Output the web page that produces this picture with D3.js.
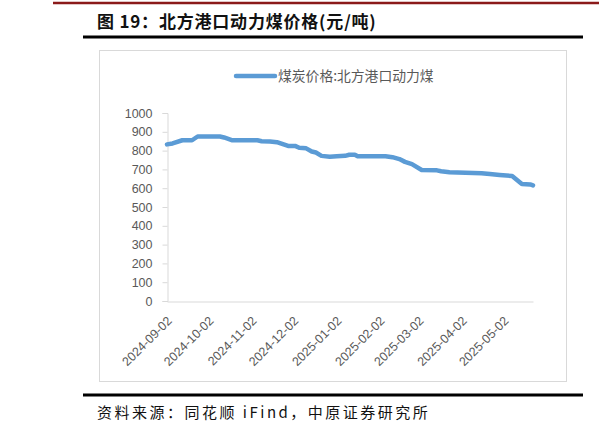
<!DOCTYPE html>
<html><head><meta charset="utf-8">
<script src="https://cdn.jsdelivr.net/npm/d3@7"></script>
<style>body{margin:0;background:#fff;}svg{display:block;}</style>
</head><body>
<svg id="c" width="599" height="433"></svg>
<script>
const dates = ["2024-09-02","2024-09-06","2024-09-13","2024-09-20","2024-09-24","2024-10-10","2024-10-13","2024-10-19","2024-11-06","2024-11-09","2024-11-15","2024-11-20","2024-11-28","2024-12-03","2024-12-06","2024-12-11","2024-12-15","2024-12-18","2024-12-22","2024-12-28","2025-01-02","2025-01-08","2025-01-11","2025-01-15","2025-01-17","2025-02-06","2025-02-11","2025-02-16","2025-02-20","2025-02-25","2025-03-04","2025-03-15","2025-03-18","2025-03-24","2025-04-16","2025-04-22","2025-04-29","2025-05-08","2025-05-15","2025-05-21","2025-05-23"];
const prices = [833,838,855,855,875,875,870,855,855,850,848,845,825,825,815,812,795,790,772,767,770,772,778,778,770,770,765,755,740,728,697,695,690,685,680,675,670,665,622,620,615];
const xTickLabels = ["2024-09-02","2024-10-02","2024-11-02","2024-12-02","2025-01-02","2025-02-02","2025-03-02","2025-04-02","2025-05-02"];
const yTicks = [0,100,200,300,400,500,600,700,800,900,1000];
const seriesName = "煤炭价格:北方港口动力煤";
const titleText = "图 19：北方港口动力煤价格(元/吨)";
const sourceText = "资料来源：同花顺 iFind，中原证券研究所";

const parse = d3.timeParse("%Y-%m-%d");
const data = dates.map((d,i)=>({date:parse(d), v:prices[i]}));
const svg = d3.select("#c");
const cjk = "'Noto Sans CJK SC','Noto Sans',sans-serif";
const lat = "'Liberation Sans',Arial,sans-serif";
const gray = "#595959";

// header lines
svg.append("line").attr("x1",53).attr("x2",599).attr("y1",3).attr("y2",3).attr("stroke","#8b1a1a").attr("stroke-width",2.5);
svg.append("text").attr("x",97).attr("y",28).attr("font-family",cjk).attr("font-weight","bold").attr("font-size",17).attr("letter-spacing","0.8px").attr("fill","#111").text(titleText);
svg.append("line").attr("x1",83).attr("x2",583).attr("y1",37).attr("y2",37).attr("stroke","#000").attr("stroke-width",3);
// chart frame
svg.append("rect").attr("x",99.5).attr("y",50.5).attr("width",467).attr("height",331).attr("fill","#fff").attr("stroke","#d9d9d9").attr("stroke-width",1);
// bottom line and source
svg.append("line").attr("x1",83).attr("x2",583).attr("y1",395).attr("y2",395).attr("stroke","#000").attr("stroke-width",3);
svg.append("text").attr("x",97).attr("y",418).attr("font-family",cjk).attr("font-size",15).attr("letter-spacing","2.5px").attr("fill","#111").text(sourceText);

const x = d3.scaleTime().domain([parse("2024-09-02"), parse("2025-05-23")]).range([167,533]);
const y = d3.scaleLinear().domain([0,1000]).range([301,113]);

// y axis
const ya = svg.append("g").attr("transform","translate(167.5,0)").call(d3.axisLeft(y).tickValues(yTicks).tickSize(5).tickPadding(10).tickFormat(d3.format("d")));
ya.select(".domain").attr("stroke","#d9d9d9");
ya.selectAll(".tick line").attr("stroke","#d9d9d9");
ya.selectAll("text").attr("font-family",lat).attr("font-size",12.5).attr("fill",gray);

// x axis
const xa = svg.append("g").attr("transform","translate(0,301.5)").call(d3.axisBottom(x).tickValues(xTickLabels.map(parse)).tickSize(0).tickFormat(d3.timeFormat("%Y-%m-%d")));
xa.select(".domain").attr("stroke","#d9d9d9");
xa.selectAll("text").attr("font-family",lat).attr("font-size",12.5).attr("fill",gray)
  .attr("text-anchor","end").attr("dy","0.35em").attr("y",0)
  .attr("transform","translate(2,17) rotate(-45)");

// line
svg.append("path").datum(data).attr("fill","none").attr("stroke","#5b9bd5").attr("stroke-width",4.5)
  .attr("stroke-linejoin","round").attr("stroke-linecap","round")
  .attr("d", d3.line().x(d=>x(d.date)).y(d=>y(d.v)));

// legend
svg.append("line").attr("x1",236).attr("x2",275).attr("y1",76).attr("y2",76).attr("stroke","#5b9bd5").attr("stroke-width",4.5).attr("stroke-linecap","round");
svg.append("text").attr("x",278).attr("y",76).attr("dy","0.35em").attr("font-family",cjk).attr("font-size",13.8).attr("fill",gray).text(seriesName);
</script>
</body></html>
